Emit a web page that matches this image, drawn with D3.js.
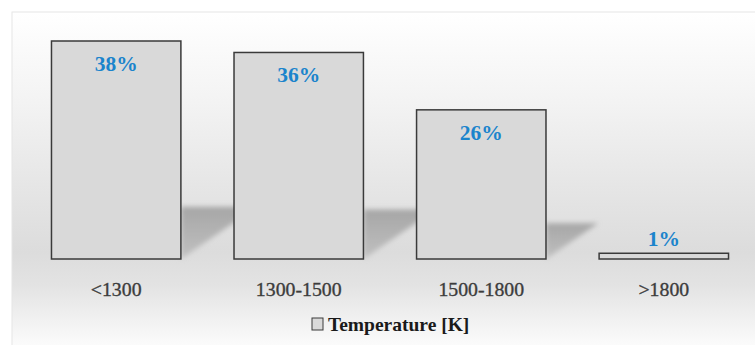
<!DOCTYPE html>
<html>
<head>
<meta charset="utf-8">
<script src="https://cdn.jsdelivr.net/npm/d3@7"></script>
<style>
  html, body { margin: 0; padding: 0; background: #ffffff; }
  svg { display: block; }
</style>
</head>
<body>
<svg id="chart" width="755" height="345"></svg>
<script>
// Share of samples per temperature range
const categories = ["<1300", "1300-1500", "1500-1800", ">1800"];
const values = [38, 36, 26, 1];
const valueLabels = ["38%", "36%", "26%", "1%"];
const seriesName = "Temperature [K]";

const W = 755, H = 345;
const svg = d3.select("#chart");
const defs = svg.append("defs");

// Panel background: vertical grey gradient
const bg = defs.append("linearGradient")
  .attr("id", "panelGrad")
  .attr("gradientUnits", "userSpaceOnUse")
  .attr("x1", 0).attr("y1", 12).attr("x2", 0).attr("y2", 345);
[[0, "#ffffff"], [0.25, "#f4f4f4"], [0.5, "#e7e7e7"], [0.72, "#dcdcdc"], [0.82, "#e3e3e3"], [1, "#fbfbfb"]]
  .forEach(([o, c]) => bg.append("stop").attr("offset", o).attr("stop-color", c));

// Soft shadow
const blur = defs.append("filter").attr("id", "soft")
  .attr("x", "-20%").attr("y", "-20%").attr("width", "140%").attr("height", "140%");
blur.append("feGaussianBlur").attr("stdDeviation", 2.6);

const shGrad = defs.append("linearGradient")
  .attr("id", "shadowGrad").attr("x1", 0).attr("y1", 0).attr("x2", 0).attr("y2", 1);
shGrad.append("stop").attr("offset", 0).attr("stop-color", "#a6a6a6");
shGrad.append("stop").attr("offset", 1).attr("stop-color", "#c0c0c0");

svg.append("rect")
  .attr("x", 12).attr("y", 12).attr("width", W).attr("height", H)
  .attr("fill", "url(#panelGrad)")
  .attr("stroke", "#e6e6e6").attr("stroke-width", 1);

// Scales
const x = d3.scaleBand()
  .domain(categories)
  .range([25, 755])
  .paddingInner(0.291)
  .paddingOuter(0.145);

const y = d3.scaleLinear()
  .domain([0, 38])
  .range([259, 41]);

const data = categories.map((c, i) => ({ cat: c, v: values[i], label: valueLabels[i] }));

// Perspective shadows behind each bar
svg.append("g").selectAll("path")
  .data(data)
  .join("path")
  .attr("d", d => {
    const right = x(d.cat) + x.bandwidth();
    const h = (y(0) - y(d.v)) * 0.24;
    const s = (y(0) - y(d.v)) * 0.35;
    return `M${right},${y(0)} L${right},${y(0) - h} L${right + s},${y(0) - h} Z`;
  })
  .attr("fill", "url(#shadowGrad)")
  .attr("filter", "url(#soft)");

// Bars
svg.append("g").selectAll("rect")
  .data(data)
  .join("rect")
  .attr("x", d => x(d.cat))
  .attr("y", d => y(d.v))
  .attr("width", x.bandwidth())
  .attr("height", d => y(0) - y(d.v))
  .attr("fill", "#d9d9d9")
  .attr("stroke", "#3a3a3a")
  .attr("stroke-width", 1.5);

// Value labels
svg.append("g").selectAll("text")
  .data(data)
  .join("text")
  .attr("x", d => x(d.cat) + x.bandwidth() / 2)
  .attr("y", d => (y(0) - y(d.v)) > 40 ? y(d.v) + 30 : y(d.v) - 7)
  .attr("text-anchor", "middle")
  .attr("font-family", "'Liberation Serif', 'DejaVu Serif', serif")
  .attr("font-weight", "bold")
  .attr("font-size", 21.5)
  .attr("fill", "#1b84cc")
  .text(d => d.label);

// Category axis (labels only)
const xAxis = svg.append("g")
  .attr("transform", `translate(0,${y(0)})`)
  .call(d3.axisBottom(x).tickSize(0).tickPadding(23));
xAxis.select(".domain").remove();
xAxis.selectAll("text")
  .attr("font-family", "'Liberation Serif', 'DejaVu Serif', serif")
  .attr("font-size", 19.8)
  .attr("fill", "#3c3c3c")
  .attr("stroke", "#3c3c3c")
  .attr("stroke-width", 0.35);

// Legend
const legend = svg.append("g").attr("transform", "translate(312,318)");
legend.append("rect")
  .attr("x", 0).attr("y", 0).attr("width", 11).attr("height", 12)
  .attr("fill", "#d9d9d9").attr("stroke", "#3a3a3a").attr("stroke-width", 1);
legend.append("text")
  .attr("x", 16).attr("y", 13)
  .attr("font-family", "'Liberation Serif', 'DejaVu Serif', serif")
  .attr("font-weight", "bold")
  .attr("font-size", 19.5)
  .attr("fill", "#1a1a1a")
  .text(seriesName);
</script>
</body>
</html>
